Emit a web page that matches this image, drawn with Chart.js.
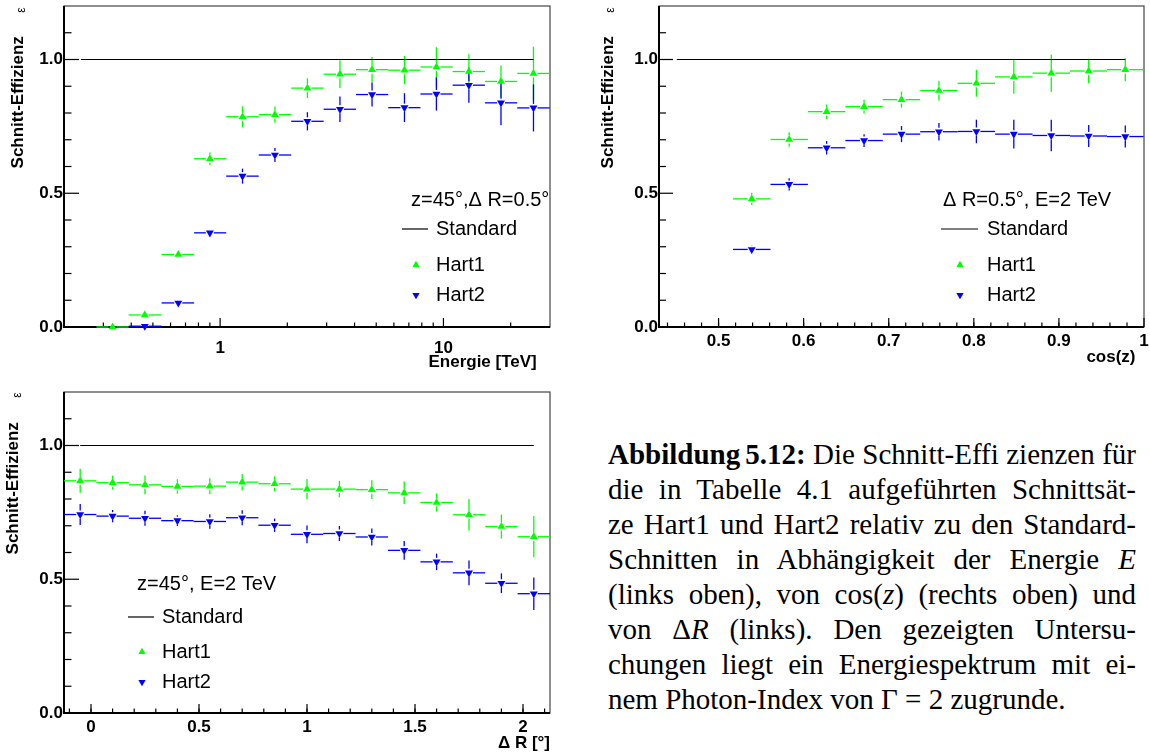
<!DOCTYPE html>
<html>
<head>
<meta charset="utf-8">
<script src="https://cdn.jsdelivr.net/npm/chart.js@4.4.1/dist/chart.umd.min.js"></script>
<style>
html,body{margin:0;padding:0;background:#fff;}
body{width:1150px;height:756px;position:relative;overflow:hidden;}
canvas{position:absolute;}
#cA{left:0;top:0;}
#cB{left:590px;top:0;}
#cC{left:0;top:380px;}
#caption{position:absolute;left:608px;top:437px;width:528px;font-family:"Liberation Serif","Times New Roman",serif;font-size:29px;line-height:35px;color:#000;}
.ln{text-align:justify;text-align-last:justify;}
.ln.last{text-align:left;text-align-last:left;}
</style>
</head>
<body>
<canvas id="cA" width="580" height="380"></canvas>
<canvas id="cB" width="560" height="380"></canvas>
<canvas id="cC" width="580" height="376"></canvas>
<div id="caption">
<div class="ln"><b>Abbildung<span style="margin-left:5px">5.12:</span></b> Die Schnitt-Effi zienzen für</div>
<div class="ln">die in Tabelle 4.1 aufgeführten Schnittsät-</div>
<div class="ln">ze Hart1 und Hart2 relativ zu den Standard-</div>
<div class="ln">Schnitten in Abhängigkeit der Energie <i>E</i></div>
<div class="ln">(links oben), von cos(<i>z</i>) (rechts oben) und</div>
<div class="ln">von Δ<i>R</i> (links). Den gezeigten Untersu-</div>
<div class="ln">chungen liegt ein Energiespektrum mit ei-</div>
<div class="ln last">nem Photon-Index von Γ = 2 zugrunde.</div>
</div>
<script>
// ---------------- DATA ----------------
// Panel 1: efficiency vs energy (TeV), z=45°, ΔR=0.5°
const energyTeV      = [0.33, 0.46, 0.65, 0.90, 1.26, 1.76, 2.46, 3.44, 4.79, 6.69, 9.3, 13.0, 18.1, 25.3];
const energyHart1    = [0.0, 0.045, 0.271, 0.629, 0.786, 0.794, 0.893, 0.945, 0.962, 0.960, 0.972, 0.955, 0.918, 0.948];
const energyHart1Err = [0.005, 0.01, 0.012, 0.023, 0.039, 0.030, 0.037, 0.052, 0.047, 0.053, 0.074, 0.065, 0.060, 0.100];
const energyHart2    = [null, 0.003, 0.09, 0.352, 0.564, 0.643, 0.769, 0.814, 0.869, 0.820, 0.871, 0.904, 0.838, 0.819];
const energyHart2Err = [0, 0.005, 0.01, 0.012, 0.028, 0.026, 0.034, 0.048, 0.045, 0.054, 0.062, 0.066, 0.084, 0.088];
const energyStandardX = [0.238, 25.3];

// Panel 2: efficiency vs cos(z), ΔR=0.5°, E=2 TeV
const cosZ        = [0.539, 0.583, 0.627, 0.671, 0.715, 0.759, 0.803, 0.847, 0.891, 0.935, 0.978];
const cosHart1    = [0.479, 0.701, 0.805, 0.824, 0.850, 0.884, 0.911, 0.935, 0.949, 0.957, 0.962];
const cosHart1Err = [0.023, 0.027, 0.027, 0.026, 0.030, 0.037, 0.050, 0.063, 0.070, 0.046, 0.043];
const cosHart2    = [0.290, 0.533, 0.670, 0.697, 0.721, 0.730, 0.731, 0.721, 0.716, 0.714, 0.712];
const cosHart2Err = [0.016, 0.023, 0.025, 0.024, 0.030, 0.033, 0.044, 0.054, 0.059, 0.041, 0.041];
const cosStandardX = [0.451, 0.978];

// Panel 3: efficiency vs ΔR (deg), z=45°, E=2 TeV
const deltaR     = [-0.05, 0.10, 0.25, 0.40, 0.55, 0.70, 0.85, 1.00, 1.15, 1.30, 1.45, 1.60, 1.75, 1.90, 2.05];
const dRHart1    = [0.868, 0.861, 0.853, 0.847, 0.848, 0.863, 0.857, 0.837, 0.837, 0.835, 0.823, 0.787, 0.741, 0.697, 0.659];
const dRHart1Err = [0.045, 0.026, 0.035, 0.027, 0.030, 0.030, 0.028, 0.038, 0.031, 0.035, 0.042, 0.034, 0.059, 0.045, 0.077];
const dRHart2    = [0.742, 0.736, 0.728, 0.719, 0.716, 0.730, 0.702, 0.668, 0.671, 0.658, 0.608, 0.565, 0.524, 0.485, 0.446];
const dRHart2Err = [0.039, 0.023, 0.028, 0.020, 0.027, 0.028, 0.025, 0.033, 0.028, 0.032, 0.035, 0.031, 0.046, 0.037, 0.061];
const dRStandardX = [-0.05, 2.05];

const standardY = [1, 1];

// Tick values / labels
const yTicks = [0, 0.5, 1.0];
const energyTicks = [1, 10];
const energyMinorTicks = [0.3, 0.4, 0.5, 0.6, 0.7, 0.8, 0.9, 2, 3, 4, 5, 6, 7, 8, 9, 20, 30];
const cosTicks = [0.5, 0.6, 0.7, 0.8, 0.9, 1.0];
const dRTicks = [0, 0.5, 1, 1.5, 2];

const seriesNames = ['Standard', 'Hart1', 'Hart2'];
const headers = ['z=45°,Δ R=0.5°', 'Δ R=0.5°, E=2 TeV', 'z=45°, E=2 TeV'];

// ---------------- HELPERS ----------------
const SANS = '"Liberation Sans", Arial, Helvetica, sans-serif';
const GREEN = '#00ff00', BLUE = '#0000ff';
Chart.defaults.font.family = SANS;
Chart.defaults.color = '#000';

function rangeStep(a, b, s) { const r = []; for (let v = a; v <= b + 1e-9; v += s) r.push(Math.round(v * 1000) / 1000); return r; }

function edges(c, log) {
  const t = log ? c.map(Math.log10) : c.slice();
  const lo = [], hi = [];
  for (let i = 0; i < t.length; i++) {
    const l = i > 0 ? (t[i] + t[i - 1]) / 2 : t[i] - (t[i + 1] - t[i]) / 2;
    const h = i < t.length - 1 ? (t[i] + t[i + 1]) / 2 : t[i] + (t[i] - t[i - 1]) / 2;
    lo.push(log ? Math.pow(10, l) : l); hi.push(log ? Math.pow(10, h) : h);
  }
  return {lo, hi};
}

function pts(xs, ys) { return xs.map((x, i) => ({x, y: ys[i]})); }

function tri(ctx, x, y, r, down) {
  const s = down ? -1 : 1;
  ctx.beginPath();
  ctx.moveTo(x, y - s * r);
  ctx.lineTo(x + r * 0.866, y + s * r / 2);
  ctx.lineTo(x - r * 0.866, y + s * r / 2);
  ctx.closePath(); ctx.fill();
}

function makePlugin(cfg) {
  return {
    id: 'rootStyle',
    beforeDatasetsDraw(chart) {
      const {ctx, chartArea: a, scales: {x, y}} = chart;
      ctx.save();
      // frame
      ctx.strokeStyle = '#444'; ctx.lineWidth = 1.2;
      ctx.strokeRect(a.left, a.top, a.right - a.left, a.bottom - a.top);
      ctx.strokeStyle = '#000'; ctx.lineWidth = 2;
      ctx.beginPath(); ctx.moveTo(a.left, a.top); ctx.lineTo(a.left, a.bottom); ctx.lineTo(a.right, a.bottom); ctx.stroke();
      // ticks (inside)
      ctx.lineWidth = 1.2;
      const seg = (x1, y1, x2, y2) => { ctx.beginPath(); ctx.moveTo(x1, y1); ctx.lineTo(x2, y2); ctx.stroke(); };
      cfg.xMajor.forEach(v => { const p = x.getPixelForValue(v); seg(p, a.bottom, p, a.bottom - cfg.xMajLen); });
      cfg.xMinor.forEach(v => { const p = x.getPixelForValue(v); if (p > a.left + 1 && p < a.right - 1) seg(p, a.bottom, p, a.bottom - cfg.xMinLen); });
      cfg.yMajor.forEach(v => { const p = y.getPixelForValue(v); seg(a.left, p, a.left + cfg.yMajLen, p); });
      cfg.yMinor.forEach(v => { const p = y.getPixelForValue(v); if (p > a.top + 1 && p < a.bottom - 1) seg(a.left, p, a.left + cfg.yMinLen, p); });
      // error bars
      ctx.lineWidth = 1.3;
      const g = 4;
      chart.data.datasets.forEach(ds => {
        if (!ds.errY) return;
        ctx.strokeStyle = ds.backgroundColor;
        ds.data.forEach((pt, j) => {
          if (pt.y == null) return;
          const cx = x.getPixelForValue(pt.x), cy = y.getPixelForValue(pt.y);
          const xl = x.getPixelForValue(ds.xLo[j]), xh = x.getPixelForValue(ds.xHi[j]);
          seg(xl, cy, cx - g, cy); seg(cx + g, cy, Math.min(xh, a.right), cy);
          const yt = y.getPixelForValue(pt.y + ds.errY[j]), yb = y.getPixelForValue(pt.y - ds.errY[j]);
          if (cy - yt > g) { seg(cx, yt, cx, cy - g); seg(cx, cy + g, cx, Math.min(yb, a.bottom)); }
        });
      });
      ctx.restore();
    },
    afterDraw(chart) {
      const ctx = chart.ctx, L = cfg.legend;
      ctx.save();
      ctx.fillStyle = '#000';
      ctx.font = '20px ' + SANS;
      ctx.textBaseline = 'middle';
      ctx.textAlign = 'left';
      ctx.fillText(L.header, L.hx, L.hy);
      ctx.strokeStyle = '#000'; ctx.lineWidth = 1.2;
      ctx.beginPath(); ctx.moveTo(L.lx1, L.y0); ctx.lineTo(L.lx2, L.y0); ctx.stroke();
      ctx.fillText(seriesNames[0], L.tx, L.y0);
      ctx.fillText(seriesNames[1], L.tx, L.y1);
      ctx.fillText(seriesNames[2], L.tx, L.y2);
      ctx.fillStyle = GREEN; tri(ctx, L.mx, L.y1, 4.2, false);
      ctx.fillStyle = BLUE; tri(ctx, L.mx, L.y2, 4.2, true);
      // epsilon symbol at the top of the y axis
      ctx.fillStyle = '#000';
      ctx.font = '12px ' + SANS;
      ctx.translate(cfg.eps[0], cfg.eps[1]);
      ctx.rotate(-Math.PI / 2);
      ctx.textAlign = 'center';
      ctx.fillText('ε', 0, 0);
      ctx.restore();
    }
  };
}

const tickFont = {family: SANS, size: 17, weight: 'bold'};
const titleFont = {family: SANS, size: 17, weight: 'bold'};

function makeChart(id, p) {
  const e = edges(p.xs, p.log);
  const datasets = [
    {label: seriesNames[0], data: pts(p.stdX, standardY), showLine: true, borderColor: '#000', borderWidth: 1.2, pointRadius: 0, clip: false},
    {label: seriesNames[1], data: pts(p.xs, p.h1), errY: p.h1e, xLo: e.lo, xHi: e.hi, backgroundColor: GREEN, borderColor: GREEN,
     pointStyle: 'triangle', pointRadius: 4.6, pointBorderWidth: 0, pointRotation: 0, showLine: false, clip: false},
    {label: seriesNames[2], data: pts(p.xs, p.h2), errY: p.h2e, xLo: e.lo, xHi: e.hi, backgroundColor: BLUE, borderColor: BLUE,
     pointStyle: 'triangle', pointRadius: 4.6, pointBorderWidth: 0, pointRotation: 180, showLine: false, clip: false}
  ];
  return new Chart(document.getElementById(id), {
    type: 'scatter',
    data: {datasets},
    plugins: [makePlugin(p.plugin)],
    options: {
      responsive: false, animation: false, devicePixelRatio: 1, events: [],
      layout: {padding: p.padding, autoPadding: false},
      plugins: {legend: {display: false}, tooltip: {enabled: false}, title: {display: false}},
      scales: {
        x: {
          type: p.log ? 'logarithmic' : 'linear', min: p.xmin, max: p.xmax,
          afterBuildTicks: s => { s.ticks = p.xTicks.map(v => ({value: v})); },
          ticks: {callback: p.xLabel, font: tickFont, color: '#000', padding: p.xPad, maxRotation: 0, autoSkip: false},
          grid: {display: false, drawTicks: false}, border: {display: false},
          title: {display: true, text: p.xTitle, align: 'end', font: titleFont, color: '#000', padding: {top: 0, bottom: p.xTitlePad}},
          afterFit: s => { s.height = p.xHeight; s.paddingLeft = 0; s.paddingRight = 0; }
        },
        y: {
          type: 'linear', min: 0, max: 1.2,
          afterBuildTicks: s => { s.ticks = yTicks.map(v => ({value: v})); },
          ticks: {callback: v => v.toFixed(1), font: tickFont, color: '#000', padding: 1},
          grid: {display: false, drawTicks: false}, border: {display: false},
          title: {display: true, text: 'Schnitt-Effizienz\u2003\u2002 ', align: 'end', font: titleFont, color: '#000', padding: {top: p.yTitlePad, bottom: 0}},
          afterFit: s => { s.width = p.yWidth; s.paddingTop = 0; s.paddingBottom = 0; }
        }
      }
    }
  });
}

const yMinor = rangeStep(0.1, 1.1, 0.1).filter(v => Math.abs(v - 0.5) > 1e-6 && Math.abs(v - 1) > 1e-6);

makeChart('cA', {
  xs: energyTeV, h1: energyHart1, h1e: energyHart1Err, h2: energyHart2, h2e: energyHart2Err, stdX: energyStandardX,
  log: true, xmin: 0.2, xmax: 30, xTicks: energyTicks, xLabel: v => String(v), xPad: 11,
  xTitle: 'Energie [TeV]\u2002 ', xTitlePad: 7, xHeight: 53, yWidth: 64, yTitlePad: 8,
  padding: {left: 0, top: 6, right: 30, bottom: 0},
  plugin: {xMajor: energyTicks, xMinor: energyMinorTicks, xMajLen: 9, xMinLen: 4.5, yMajor: yTicks, yMinor, yMajLen: 15, yMinLen: 7.5,
    eps: [22, 10],
    legend: {header: headers[0], hx: 411, hy: 200, lx1: 402, lx2: 428, tx: 436, mx: 416, y0: 229, y1: 265, y2: 295}}
});

makeChart('cB', {
  xs: cosZ, h1: cosHart1, h1e: cosHart1Err, h2: cosHart2, h2e: cosHart2Err, stdX: cosStandardX,
  log: false, xmin: 0.43, xmax: 1.0, xTicks: cosTicks, xLabel: v => (Math.abs(v - 1) < 1e-9 ? '1' : v.toFixed(1)), xPad: 4,
  xTitle: 'cos(z)\u2002', xTitlePad: 12, xHeight: 53, yWidth: 69, yTitlePad: 8,
  padding: {left: 0, top: 6, right: 6, bottom: 0},
  plugin: {xMajor: cosTicks, xMinor: rangeStep(0.44, 1.0, 0.02), xMajLen: 9, xMinLen: 4.5, yMajor: yTicks, yMinor, yMajLen: 14, yMinLen: 7,
    eps: [21, 10],
    legend: {header: headers[1], hx: 353, hy: 200, lx1: 351, lx2: 388, tx: 397, mx: 370, y0: 229, y1: 265, y2: 295}}
});

makeChart('cC', {
  xs: deltaR, h1: dRHart1, h1e: dRHart1Err, h2: dRHart2, h2e: dRHart2Err, stdX: dRStandardX,
  log: false, xmin: -0.125, xmax: 2.125, xTicks: dRTicks, xLabel: v => String(v), xPad: 4,
  xTitle: 'Δ R [°]', xTitlePad: 2, xHeight: 43, yWidth: 64, yTitlePad: 3,
  padding: {left: 0, top: 12, right: 30, bottom: 0},
  plugin: {xMajor: dRTicks, xMinor: rangeStep(-0.1, 2.1, 0.1), xMajLen: 9, xMinLen: 4.5, yMajor: yTicks, yMinor, yMajLen: 15, yMinLen: 7.5,
    eps: [18, 15],
    legend: {header: headers[2], hx: 137, hy: 204, lx1: 128, lx2: 154, tx: 162, mx: 142, y0: 237, y1: 272, y2: 302}}
});
</script>
</body>
</html>
